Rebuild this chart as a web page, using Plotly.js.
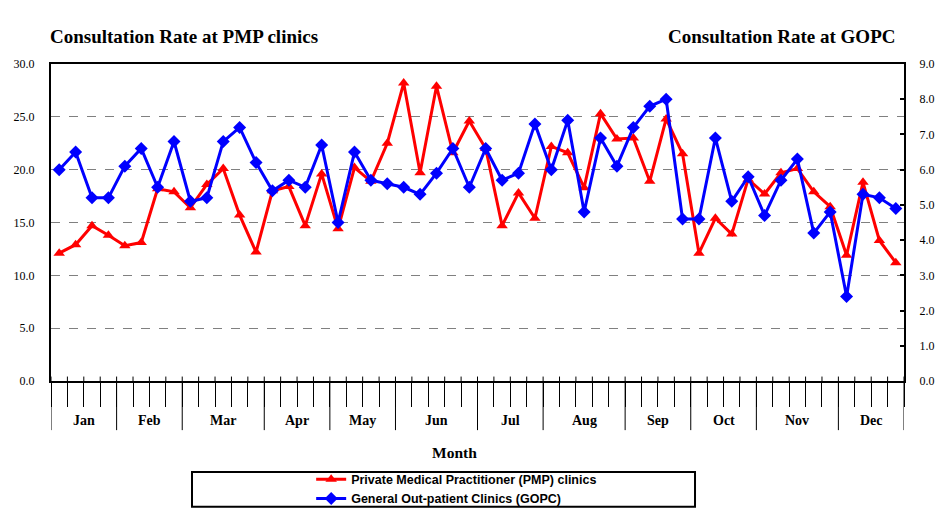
<!DOCTYPE html>
<html>
<head>
<meta charset="utf-8">
<script src="https://cdn.plot.ly/plotly-3.0.1.min.js"></script>
<style>html,body{margin:0;padding:0;background:#fff;}#chart{width:948px;height:514px;}</style>
</head>
<body>
<div id="chart"></div>
<script>
// Month groups and number of weeks in each
const months = ["Jan","Feb","Mar","Apr","May","Jun","Jul","Aug","Sep","Oct","Nov","Dec"];
const weeksPerMonth = [4,4,5,4,4,5,4,5,4,4,5,4];

// Weekly consultation rates
const pmpRate = [12.1,12.9,14.7,13.8,12.8,13.1,18.2,17.9,16.4,18.6,20.1,15.7,12.2,18.0,18.4,14.7,19.6,14.4,
  20.2,18.9,22.5,28.2,19.7,27.9,21.6,24.6,22.0,14.7,17.8,15.4,22.2,21.6,18.3,25.3,22.9,
  23.0,18.9,24.8,21.5,12.1,15.4,13.9,19.1,17.7,19.7,20.1,17.9,16.5,11.9,18.8,13.3,11.2];
const gopcRate = [6.0,6.5,5.2,5.2,6.1,6.6,5.5,6.8,5.1,5.2,6.8,7.2,6.2,5.4,5.7,5.5,6.7,4.5,
  6.5,5.7,5.6,5.5,5.3,5.9,6.6,5.5,6.6,5.7,5.9,7.3,6.0,7.4,4.8,6.9,6.1,
  7.2,7.8,8.0,4.6,4.6,6.9,5.1,5.8,4.7,5.7,6.3,4.2,4.8,2.4,5.3,5.2,4.9];

const seriesNames = ["Private Medical Practitioner (PMP) clinics","General Out-patient Clinics (GOPC)"];
const leftTitle = "Consultation Rate at PMP clinics";
const rightTitle = "Consultation Rate at GOPC";
const xTitle = "Month";

const nWeeks = pmpRate.length;
const weekX = pmpRate.map((_, i) => i + 0.5);
const weekBounds = Array.from({length: nWeeks + 1}, (_, i) => i);
const monthBounds = [0];
weeksPerMonth.forEach(w => monthBounds.push(monthBounds[monthBounds.length-1] + w));
const monthMid = months.map((_, i) => (monthBounds[i] + monthBounds[i+1]) / 2);

const serif = "Liberation Serif, Times New Roman, serif";

const traces = [
  {x: weekX, y: pmpRate, name: seriesNames[0], type: "scatter", mode: "lines+markers",
   xaxis: "x", yaxis: "y",
   line: {color: "#FF0000", width: 3}, marker: {symbol: "triangle-up", size: 10, color: "#FF0000"}},
  {x: weekX, y: gopcRate, name: seriesNames[1], type: "scatter", mode: "lines+markers",
   xaxis: "x", yaxis: "y2",
   line: {color: "#0000FF", width: 3}, marker: {symbol: "diamond", size: 10, color: "#0000FF"}}
];

const annotations = months.map((m, i) => ({
  text: "<b>" + m + "</b>", x: monthMid[i], xref: "x", y: -0.126, yref: "paper",
  showarrow: false, xanchor: "center", yanchor: "middle", font: {family: serif, size: 14, color: "#000"}
}));
annotations.push({text: "<b>" + xTitle + "</b>", x: 0.4725, xref: "paper", y: -0.227, yref: "paper",
  showarrow: false, xanchor: "center", yanchor: "middle", font: {family: serif, size: 15.5, color: "#000"}});
annotations.push({text: "<b>" + leftTitle + "</b>", x: -0.0035, xref: "paper", y: 1.088, yref: "paper",
  showarrow: false, xanchor: "left", yanchor: "middle", font: {family: serif, size: 19, color: "#000"}});
annotations.push({text: "<b>" + rightTitle + "</b>", x: 0.9918, xref: "paper", y: 1.088, yref: "paper",
  showarrow: false, xanchor: "right", yanchor: "middle", font: {family: serif, size: 19, color: "#000"}});

// long month-boundary ticks and small inner week ticks
const shapes = [];
monthBounds.forEach(b => shapes.push({type: "line", xref: "x", yref: "paper", x0: b, x1: b, y0: 0, y1: -0.155,
  line: {color: "#000", width: 1}}));
weekBounds.forEach(b => shapes.push({type: "line", xref: "x", yref: "paper", x0: b, x1: b, y0: 0, y1: 0.014,
  line: {color: "#000", width: 1}}));
shapes.push({type: "rect", xref: "paper", yref: "paper", x0: 0.1653, x1: 0.755, y0: -0.397, y1: -0.287,
  line: {color: "#000", width: 2}, fillcolor: "rgba(0,0,0,0)"});

const layout = {
  width: 948, height: 514,
  margin: {l: 51, r: 44, t: 64, b: 133, autoexpand: false},
  paper_bgcolor: "#fff", plot_bgcolor: "#fff",
  showlegend: true,
  legend: {x: 0.305, y: -0.264, xanchor: "left", yanchor: "top", orientation: "v",
    font: {family: "Liberation Sans, Arial, sans-serif", size: 12.5, color: "#000", weight: "bold"},
    bgcolor: "rgba(0,0,0,0)", borderwidth: 0, itemwidth: 30, tracegroupgap: 0},
  xaxis: {range: [0, nWeeks], tickmode: "array", tickvals: weekBounds, showticklabels: false,
    ticks: "outside", ticklen: 24, tickwidth: 1, tickcolor: "#000",
    showline: true, linewidth: 2, linecolor: "#000", mirror: true, showgrid: false, zeroline: false},
  yaxis: {range: [0, 30], dtick: 5, tickformat: ".1f", ticks: "outside", ticklen: 12, tickcolor: "rgba(0,0,0,0)",
    tickfont: {family: serif, size: 12, color: "#000"},
    showgrid: true, gridcolor: "#808080", griddash: "dash", gridwidth: 1,
    showline: true, linewidth: 2, linecolor: "#000", mirror: true, zeroline: false},
  yaxis2: {overlaying: "y", side: "right", anchor: "x", range: [0, 9], dtick: 1, tickformat: ".1f",
    ticks: "inside", ticklen: 4, tickwidth: 2, tickcolor: "#000", ticklabelstandoff: 11,
    tickfont: {family: serif, size: 12, color: "#000"},
    showgrid: false, showline: true, linewidth: 2, linecolor: "#000", zeroline: false},
  shapes: shapes,
  annotations: annotations
};

Plotly.newPlot("chart", traces, layout, {displayModeBar: false, staticPlot: true});
</script>
</body>
</html>
